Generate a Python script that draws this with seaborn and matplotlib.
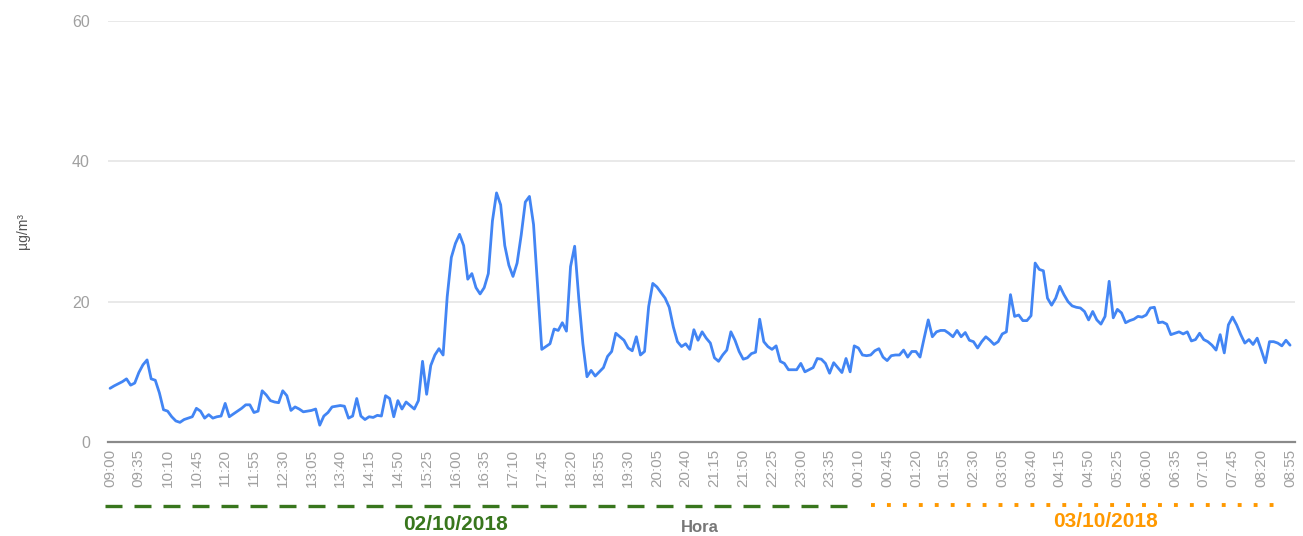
import numpy as np
import pandas as pd
import seaborn as sns
import matplotlib.pyplot as plt
import matplotlib.transforms as mtransforms

# 5-minute readings, 02/10/2018 09:00 -> 03/10/2018 08:55
pm_values = [
    7.65, 8.0, 8.3, 8.6, 9.0, 8.1, 8.4, 9.9, 11.0, 11.7, 9.0, 8.8, 7.0, 4.6,
    4.4, 3.6, 3.0, 2.8, 3.2, 3.4, 3.6, 4.8, 4.4, 3.4, 3.9, 3.4, 3.6, 3.7,
    5.5, 3.6, 4.0, 4.4, 4.8, 5.3, 5.3, 4.2, 4.4, 7.3, 6.7, 5.9, 5.7, 5.6,
    7.3, 6.6, 4.5, 5.0, 4.7, 4.3, 4.4, 4.5, 4.7, 2.4, 3.7, 4.2, 5.0, 5.1,
    5.2, 5.1, 3.4, 3.7, 6.2, 3.7, 3.2, 3.6, 3.5, 3.8, 3.7, 6.6, 6.2, 3.6,
    5.9, 4.7, 5.7, 5.2, 4.7, 5.9, 11.5, 6.8, 10.9, 12.4, 13.3, 12.4, 20.7, 26.3,
    28.3, 29.6, 28.0, 23.2, 24.0, 22.0, 21.1, 22.0, 24.0, 31.5, 35.5, 33.8, 28.0, 25.2,
    23.6, 25.5, 29.5, 34.2, 35.0, 31.0, 22.0, 13.2, 13.6, 14.0, 16.1, 15.9, 17.0, 15.8,
    25.0, 27.9, 20.5, 14.0, 9.3, 10.2, 9.4, 10.0, 10.6, 12.2, 12.9, 15.5, 15.0, 14.5,
    13.4, 13.0, 15.0, 12.4, 12.9, 19.3, 22.6, 22.1, 21.3, 20.5, 19.2, 16.4, 14.3, 13.6,
    14.0, 13.2, 16.0, 14.5, 15.7, 14.8, 14.1, 12.0, 11.5, 12.4, 13.1, 15.7, 14.5, 12.9,
    11.8, 12.0, 12.6, 12.8, 17.5, 14.3, 13.6, 13.2, 13.7, 11.5, 11.2, 10.3, 10.3, 10.3,
    11.2, 10.0, 10.3, 10.6, 11.9, 11.8, 11.2, 9.8, 11.3, 10.6, 9.9, 11.9, 10.0, 13.7,
    13.4, 12.4, 12.3, 12.4, 13.0, 13.3, 12.1, 11.6, 12.3, 12.4, 12.4, 13.1, 12.1, 12.9,
    12.9, 12.1, 14.8, 17.4, 15.0, 15.7, 15.9, 15.9, 15.5, 15.0, 15.9, 15.0, 15.6, 14.5,
    14.3, 13.4, 14.3, 15.0, 14.5, 13.9, 14.3, 15.4, 15.7, 21.0, 17.9, 18.1, 17.3, 17.3,
    18.0, 25.5, 24.6, 24.4, 20.5, 19.5, 20.5, 22.2, 21.0, 20.0, 19.4, 19.2, 19.1, 18.6,
    17.4, 18.6, 17.4, 16.8, 17.9, 22.9, 17.7, 18.9, 18.4, 17.0, 17.3, 17.5, 17.9, 17.8,
    18.1, 19.1, 19.2, 17.0, 17.1, 16.8, 15.3, 15.5, 15.7, 15.4, 15.7, 14.4, 14.6, 15.5,
    14.6, 14.3, 13.8, 13.1, 15.3, 12.7, 16.7, 17.8, 16.7, 15.3, 14.1, 14.6, 13.9, 14.8,
    13.1, 11.3, 14.3, 14.3, 14.1, 13.7, 14.5, 13.8,
]

times = pd.date_range("2018-10-02 09:00", periods=len(pm_values), freq="5min")
time_labels = [t.strftime("%H:%M") for t in times]
day_labels = ["02/10/2018", "03/10/2018"]
day_colors = ["#38761d", "#ff9900"]

df = pd.DataFrame({"idx": np.arange(len(pm_values)), "pm": pm_values})

sns.set_theme(style="white")
plt.rcParams["font.family"] = ["Liberation Sans", "DejaVu Sans"]

fig = plt.figure(figsize=(13.03, 5.36), dpi=100)
ax = fig.add_axes([108 / 1303, 94 / 536, 1187 / 1303, 421 / 536])

sns.lineplot(data=df, x="idx", y="pm", ax=ax, color="#4285f4", linewidth=2.0)

ax.set_xlim(-0.5, 288.2)
ax.set_ylim(0, 60)
ax.set_yticks([0, 20, 40, 60])
ax.yaxis.grid(True, color="#e3e3e3", linewidth=1.1)
ax.set_axisbelow(True)
for s in ["top", "right", "left"]:
    ax.spines[s].set_visible(False)
ax.spines["bottom"].set_color("#8a8a8a")
ax.spines["bottom"].set_linewidth(1.6)

tick_idx = list(range(0, len(pm_values), 7))
ax.set_xticks(tick_idx)
ax.set_xticklabels([time_labels[i] for i in tick_idx], rotation=90,
                   fontsize=11, color="#a0a0a0")
ax.tick_params(axis="x", length=0, pad=5)
ax.tick_params(axis="y", length=0, pad=13, labelsize=11.5, labelcolor="#a0a0a0")

ax.set_xlabel("")
ax.set_ylabel("µg/m³", fontsize=10, color="#555555", labelpad=30)

# day markers below the time axis
trans = mtransforms.blended_transform_factory(ax.transData, ax.transAxes)
ax.plot([-1.2, 179.5], [-0.152, -0.152], transform=trans, clip_on=False,
        color=day_colors[0], linewidth=2.4, dashes=(5.1, 3.6), dash_capstyle="butt")
ax.plot([185, 284], [-0.150, -0.150], transform=trans, clip_on=False,
        color=day_colors[1], linewidth=2.8, dashes=(1, 3.1), dash_capstyle="butt")
ax.text(84, -0.197, day_labels[0], transform=trans, ha="center", va="center",
        fontsize=15, fontweight="bold", color=day_colors[0])
ax.text(242, -0.19, day_labels[1], transform=trans, ha="center", va="center",
        fontsize=15, fontweight="bold", color=day_colors[1])
ax.text(143.5, -0.202, "Hora", transform=trans, ha="center", va="center",
        fontsize=12, fontweight="bold", color="#777777")

fig.savefig("out.png", dpi=100, facecolor="white")
